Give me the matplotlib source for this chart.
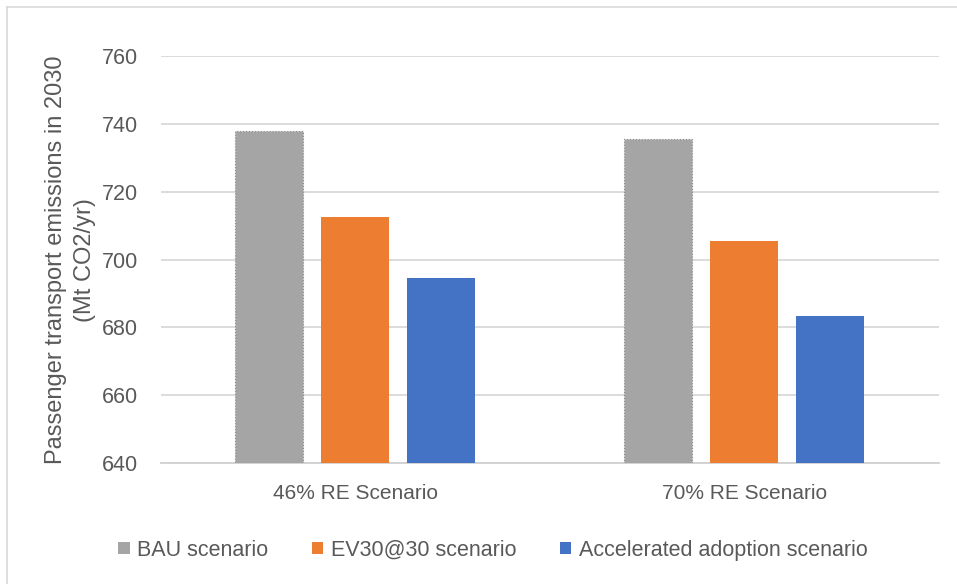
import numpy as np
import matplotlib.pyplot as plt
from matplotlib.lines import Line2D

categories = ['46% RE Scenario', '70% RE Scenario']
series = ['BAU scenario', 'EV30@30 scenario', 'Accelerated adoption scenario']
bau = [738.0, 735.5]
ev30 = [712.5, 705.5]
accel = [694.5, 683.5]
yticks = [640, 660, 680, 700, 720, 740, 760]

colors = ['#A5A5A5', '#ED7D31', '#4472C4']
txt = '#595959'
plt.rcParams['font.family'] = ['Liberation Sans', 'DejaVu Sans']

fig = plt.figure(figsize=(9.57, 5.84), dpi=100)
ax = fig.add_axes([0.168, 0.207, 0.813, 0.697])

x = np.arange(len(categories))
w = 0.175
step = 0.221
for i, (vals, c) in enumerate(zip([bau, ev30, accel], colors)):
    if i == 0:
        ax.bar(x + (i - 1) * step, np.array(vals) - 640, w, bottom=640, color=c,
               edgecolor='#8c8c8c', linestyle=':', linewidth=0.8, label=series[i], zorder=3)
    else:
        ax.bar(x + (i - 1) * step, np.array(vals) - 640, w, bottom=640, color=c,
               label=series[i], zorder=3)

ax.set_xlim(-0.5, 1.5)
ax.set_ylim(640, 760)
ax.set_yticks(yticks)
ax.set_xticks(x)
ax.set_xticklabels(categories, fontsize=15, color=txt)
ax.tick_params(axis='y', labelsize=15.5, colors=txt, length=0, pad=16.5)
ax.tick_params(axis='x', length=0, pad=15)
ax.grid(axis='y', color='#D9D9D9', linewidth=1.3, zorder=0)
for s in ['top', 'right', 'left']:
    ax.spines[s].set_visible(False)
ax.spines['bottom'].set_color('#D0D0D0')
ax.spines['bottom'].set_linewidth(1.3)

ax.set_ylabel('Passenger transport emissions in 2030\n(Mt CO2/yr)', fontsize=17,
              color=txt, labelpad=4, linespacing=1.4)

leg = fig.legend(loc='center', bbox_to_anchor=(0.515, 0.058), ncol=3, frameon=False,
                 fontsize=15.5, handlelength=0.55, handleheight=0.55, handletextpad=0.35,
                 columnspacing=2.0)
for t in leg.get_texts():
    t.set_color(txt)
for h in leg.legend_handles:
    h.set_linestyle('-')
    h.set_edgecolor('none')

# only top and left of the chart frame are inside the screenshot
fig.add_artist(Line2D([0.007, 1.0], [0.988, 0.988], transform=fig.transFigure,
                      color='#D9D9D9', linewidth=1.2))
fig.add_artist(Line2D([0.007, 0.007], [0.0, 0.988], transform=fig.transFigure,
                      color='#D9D9D9', linewidth=1.2))

fig.savefig('out.png', dpi=100)
